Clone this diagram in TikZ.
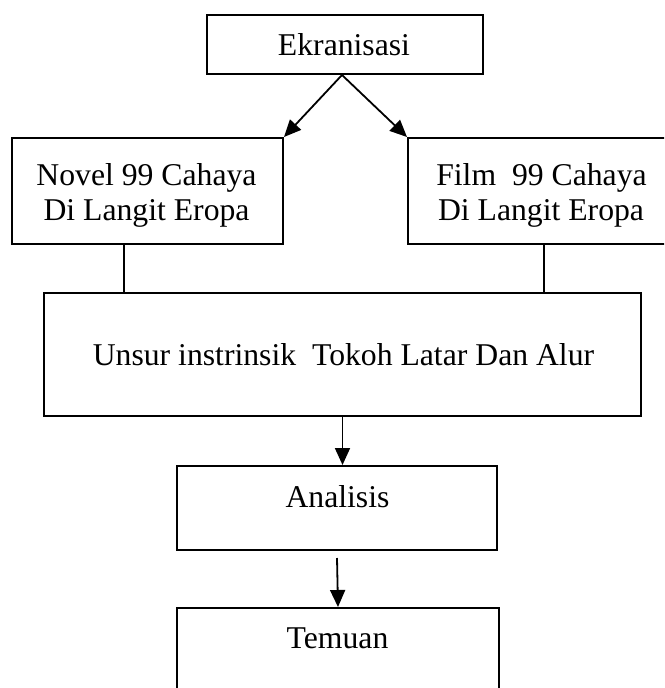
\documentclass[tikz,border=0pt]{standalone}
\usepackage{fontspec}
\setmainfont{Liberation Serif}
\usetikzlibrary{arrows.meta}
\begin{document}
\begin{tikzpicture}[x=1pt,y=-1pt,
  box/.style={draw,line width=2pt,rectangle,inner sep=0pt},
  txt/.style={anchor=base,inner sep=0pt,font=\fontsize{31.7}{34.5}\selectfont},
  conn/.style={line width=1.8pt},
  arr/.style={line width=1.8pt,-{Triangle[length=17pt,width=15pt]}}]
\useasboundingbox (0,0) rectangle (664,688);
\fill[white] (0,0) rectangle (664,688);
\clip (0,0) rectangle (664,688);
% boxes
\node[box,minimum width=276pt,minimum height=59pt] (ekr) at (345,44.5) {};
\node[box,minimum width=271pt,minimum height=106pt] (novel) at (147.5,191) {};
\node[box,minimum width=267pt,minimum height=106pt] (film) at (541.5,191) {};
\node[box,minimum width=597pt,minimum height=123pt] (unsur) at (342.5,354.5) {};
\node[box,minimum width=320pt,minimum height=84pt] (anal) at (337,508) {};
\node[box,minimum width=322pt,minimum height=106pt] (temu) at (338,661) {};
% texts
\node[txt] (tekr) at (344,55) {Ekranisasi};
\node[txt] (tnov1) at (146.5,185.7) {Novel 99 Cahaya};
\node[txt] (tnov2) at (146.5,220) {Di Langit Eropa};
\node[txt] (tfil1) at (541.5,185.7) {Film~~99 Cahaya};
\node[txt] (tfil2) at (541,220) {Di Langit Eropa};
\node[txt] (tuns) at (343.5,365) {Unsur instrinsik~~Tokoh Latar Dan Alur};
\node[txt] (tana) at (337.5,507) {Analisis};
\node[txt] (ttem) at (337.5,648) {Temuan};
% connectors
\draw[arr] ([xshift=-3pt]ekr.south) -- (novel.north east);
\draw[arr] ([xshift=-3pt]ekr.south) -- (film.north west);
\draw[conn] ([xshift=-23.5pt]novel.south) -- ([xshift=-23.5pt]novel.south |- unsur.north);
\draw[conn] ([xshift=2.5pt]film.south) -- ([xshift=2.5pt]film.south |- unsur.north);
\draw[arr] (unsur.south) -- (unsur.south |- anal.north);
\draw[arr] ([yshift=-7pt]anal.south) -- (temu.north);
\end{tikzpicture}
\end{document}
